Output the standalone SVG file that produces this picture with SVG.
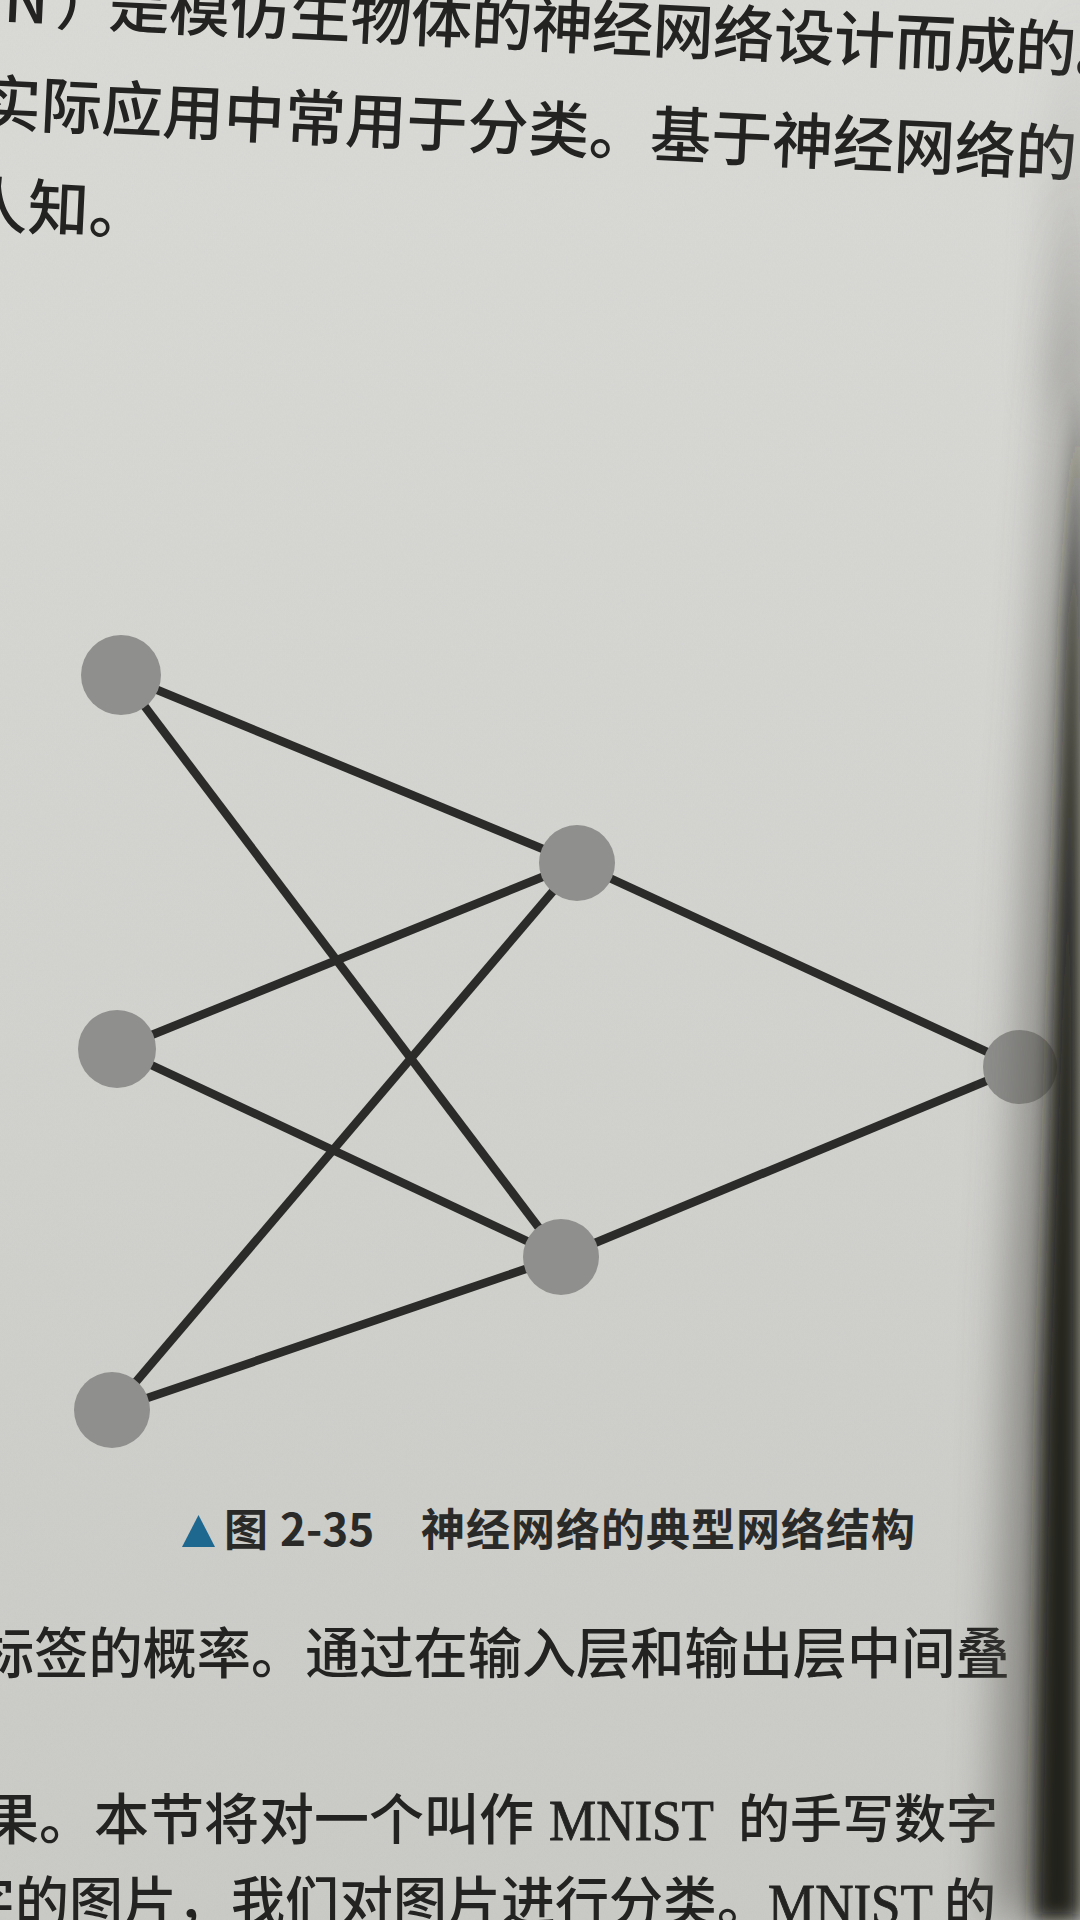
<svg xmlns="http://www.w3.org/2000/svg" width="1080" height="1920" viewBox="0 0 1080 1920">
  <defs>
    <linearGradient id="paper" x1="0" y1="0" x2="0" y2="1">
      <stop offset="0" stop-color="#d9d9d6"/>
      <stop offset="0.5" stop-color="#d2d2cf"/>
      <stop offset="1" stop-color="#c9c9c5"/>
    </linearGradient>
    <filter id="grain" x="0" y="0" width="100%" height="100%">
      <feTurbulence type="fractalNoise" baseFrequency="0.9 0.35" numOctaves="2" seed="3"/>
      <feColorMatrix type="matrix" values="0 0 0 0 0.5  0 0 0 0 0.5  0 0 0 0 0.5  0 0 0 0.9 -0.3"/>
    </filter>
    <filter id="blurWide" filterUnits="userSpaceOnUse" x="700" y="-300" width="600" height="2600">
      <feGaussianBlur stdDeviation="24"/>
    </filter>
    <filter id="blurNarrow" filterUnits="userSpaceOnUse" x="800" y="-300" width="500" height="2600">
      <feGaussianBlur stdDeviation="9"/>
    </filter>
    <style>
      .body { font-family: "Noto Sans CJK SC", "Noto Sans", sans-serif; font-weight: 500; fill: #232322; }
      .latin { font-family: "Liberation Serif", "Noto Sans CJK SC", serif; fill: #232322; stroke: #232322; stroke-width: 0.9; }
      .cap { font-family: "Noto Sans CJK SC", "Noto Sans", sans-serif; font-weight: 700; fill: #2a2a29; }
      .tri { fill: #1e6890; }
      .edge { stroke: #2b2b29; stroke-width: 8.5; stroke-linecap: butt; fill: none; }
      .node { fill: #8f8f8d; }
    </style>
  </defs>

  <!-- paper -->
  <rect x="0" y="0" width="1080" height="1920" fill="url(#paper)"/>
  <rect x="0" y="0" width="1080" height="1920" filter="url(#grain)" opacity="0.12"/>

  <!-- top text -->
  <g id="top-text">
    <text class="body" font-size="61" y="21.5" transform="rotate(2.7 0 21.5)"><tspan x="3">N</tspan><tspan x="55">）</tspan><tspan x="108" letter-spacing="-0.5">是模仿生物体的神经网络设计而成的。</tspan></text>
    <text class="body" font-size="61" x="-21" y="125.7" transform="rotate(2.7 0 125.7)">实际应用中常用于分类。基于神经网络的</text>
    <text class="body" font-size="61" x="-34" y="228" transform="rotate(2.7 0 228)">人知。</text>
  </g>

  <!-- connectors -->
  <g id="connectors">
    <line class="edge" x1="121" y1="675" x2="577" y2="863"/>
    <line class="edge" x1="121" y1="675" x2="561" y2="1257"/>
    <line class="edge" x1="117" y1="1049" x2="577" y2="863"/>
    <line class="edge" x1="117" y1="1049" x2="561" y2="1257"/>
    <line class="edge" x1="112" y1="1410" x2="577" y2="863"/>
    <line class="edge" x1="112" y1="1410" x2="561" y2="1257"/>
    <line class="edge" x1="577" y1="863" x2="1020" y2="1067"/>
    <line class="edge" x1="561" y1="1257" x2="1020" y2="1067"/>
  </g>

  <!-- nodes -->
  <g id="input-1"><circle class="node" cx="121" cy="675" r="40"/></g>
  <g id="input-2"><circle class="node" cx="117" cy="1049" r="39"/></g>
  <g id="input-3"><circle class="node" cx="112" cy="1410" r="38"/></g>
  <g id="hidden-1"><circle class="node" cx="577" cy="863" r="38"/></g>
  <g id="hidden-2"><circle class="node" cx="561" cy="1257" r="38"/></g>
  <g id="output-1"><circle class="node" cx="1020" cy="1067" r="37"/></g>

  <!-- caption -->
  <g id="caption">
    <polygon class="tri" points="182,1547 198.5,1515 215,1547"/>
    <text class="cap" font-size="44" y="1546"><tspan x="224">图</tspan><tspan x="280">2-35</tspan><tspan x="421" letter-spacing="1">神经网络的典型网络结构</tspan></text>
  </g>

  <!-- bottom text -->
  <g id="bottom-text">
    <text class="body" font-size="54.2" x="-20" y="1673">标签的概率。通过在输入层和输出层中间叠</text>
    <text class="body" font-size="55" x="-16" y="1839">果。本节将对一个叫作</text>
    <text class="latin" font-size="58" x="549" y="1840" textLength="165" lengthAdjust="spacingAndGlyphs">MNIST</text>
    <text class="body" font-size="52" x="738" y="1838">的手写数字</text>
    <text class="body" font-size="54" x="-39" y="1922">字的图片，我们对图片进行分类。</text>
    <text class="latin" font-size="58" x="768" y="1924" textLength="165" lengthAdjust="spacingAndGlyphs">MNIST</text>
    <text class="body" font-size="52" x="944" y="1922">的</text>
  </g>

  <!-- spine shadow -->
  <g id="shadow">
    <polygon points="1080,0 1062,150 1052,400 1080,400" fill="#8a8985" opacity="0.5" filter="url(#blurWide)"/>
    <polygon points="1080,180 1056,420 1032,800 1010,1300 994,1920 1080,1920" fill="#57554f" opacity="0.6" filter="url(#blurWide)"/>
    <polygon points="1080,380 1066,620 1054,1000 1042,1400 1034,1920 1080,1920" fill="#1c1a17" opacity="0.95" filter="url(#blurNarrow)"/>
  </g>
</svg>
